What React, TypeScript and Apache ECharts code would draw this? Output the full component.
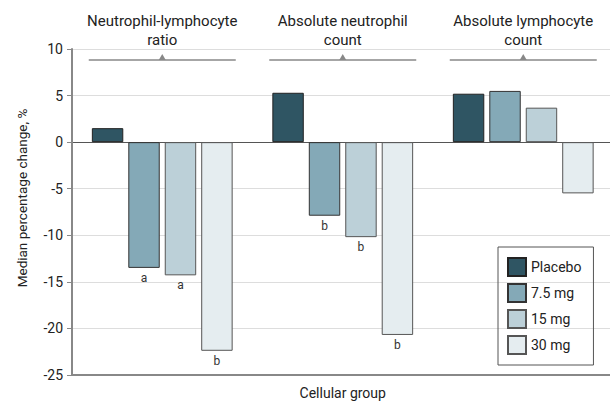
import React, { useEffect, useRef } from "react";
import * as echarts from "echarts";

const categories = ["Neutrophil-lymphocyte\nratio", "Absolute neutrophil\ncount", "Absolute lymphocyte\ncount"];
const seriesNames = ["Placebo", "7.5 mg", "15 mg", "30 mg"];
const placebo = [1.5, 5.3, 5.2];
const mg75 = [-13.5, -7.9, 5.5];
const mg15 = [-14.3, -10.2, 3.7];
const mg30 = [-22.4, -20.7, -5.5];
const notes75 = ["a", "b", ""];
const notes15 = ["a", "b", ""];
const notes30 = ["b", "b", ""];
const yTicks = { min: -25, max: 10, interval: 5 };
const yTitle = "Median percentage change, %";
const xTitle = "Cellular group";

const colors = ["#2f5563", "#84a9b7", "#bcd0d8", "#e5edf0"];
const borders = ["#222", "#333", "#555", "#555"];

export default function App() {
  const ref = useRef<HTMLDivElement>(null);
  useEffect(() => {
    if (!ref.current) return;
    const chart = echarts.init(ref.current, undefined, { renderer: "svg" });
    const font = "Roboto";
    const values = [placebo, mg75, mg15, mg30];
    const notes = [null, notes75, notes15, notes30];
    const series = values.map((vals, i) => ({
      name: seriesNames[i],
      type: "bar",
      data: vals,
      barGap: "16%",
      barCategoryGap: "22%",
      itemStyle: { color: colors[i], borderColor: borders[i], borderWidth: 1 },
      label: notes[i]
        ? {
            show: true,
            position: "bottom",
            distance: 4,
            fontFamily: font,
            fontSize: 12,
            color: "#333",
            formatter: (p: any) => (notes[i] as string[])[p.dataIndex],
          }
        : { show: false },
    }));
    const option: any = {
      animation: false,
      textStyle: { fontFamily: font },
      grid: { left: 72, top: 49, width: 541.5, height: 326, containLabel: false, outerBoundsMode: "none" },
      legend: {
        orient: "vertical",
        left: 498,
        top: 247,
        itemWidth: 18,
        itemHeight: 18,
        itemGap: 6,
        padding: [10, 12, 10, 9],
        borderColor: "#555",
        borderWidth: 1,
        icon: "rect",
        textStyle: { fontFamily: font, fontSize: 14, color: "#222" },
        data: seriesNames,
      },
      xAxis: {
        type: "category",
        data: categories,
        name: xTitle,
        nameLocation: "middle",
        nameGap: 11,
        nameTextStyle: { fontFamily: font, fontSize: 14, color: "#222", verticalAlign: "top" },
        axisLine: { onZero: false, lineStyle: { color: "#888", width: 2 } },
        axisTick: { show: false },
        axisLabel: { show: false },
        splitLine: { show: false },
      },
      yAxis: {
        type: "value",
        min: yTicks.min,
        max: yTicks.max,
        interval: yTicks.interval,
        axisLine: { show: true, lineStyle: { color: "#888", width: 2 } },
        axisTick: { show: true, length: 5, lineStyle: { color: "#888" } },
        axisLabel: { margin: 9, fontFamily: font, fontSize: 14, color: "#222" },
        splitLine: {
          show: true,
          lineStyle: { color: ["#ddd", "#ddd", "#ddd", "#ddd", "#ddd", "#555", "#ddd", "#ddd"], width: 1 },
        },
      },
      series,
    };
    chart.setOption(option);

    const graphics: any[] = [
      {
        type: "text",
        x: 22,
        y: 198,
        rotation: Math.PI / 2,
        style: {
          text: yTitle,
          fontFamily: font,
          fontSize: 13.5,
          fill: "#222",
          align: "center",
          verticalAlign: "middle",
        },
      },
    ];
    categories.forEach((c, i) => {
      const cx = chart.convertToPixel({ xAxisIndex: 0 }, i) as number;
      const ly = 60;
      graphics.push({
        type: "line",
        shape: { x1: cx - 73.5, y1: ly, x2: cx + 73.5, y2: ly },
        style: { stroke: "#888", lineWidth: 1.5 },
      });
      graphics.push({
        type: "polygon",
        shape: { points: [[cx - 3.5, ly], [cx + 3.5, ly], [cx, ly - 6]] },
        style: { fill: "#888" },
      });
      graphics.push({
        type: "text",
        x: cx,
        y: 11,
        style: {
          text: c,
          fontFamily: font,
          fontSize: 15,
          lineHeight: 19,
          fill: "#222",
          align: "center",
          verticalAlign: "top",
        },
      });
    });
    chart.setOption({ graphic: graphics });
    return () => chart.dispose();
  }, []);
  return <div ref={ref} style={{ width: 610, height: 402, position: "absolute", left: 0, top: 0 }} />;
}
